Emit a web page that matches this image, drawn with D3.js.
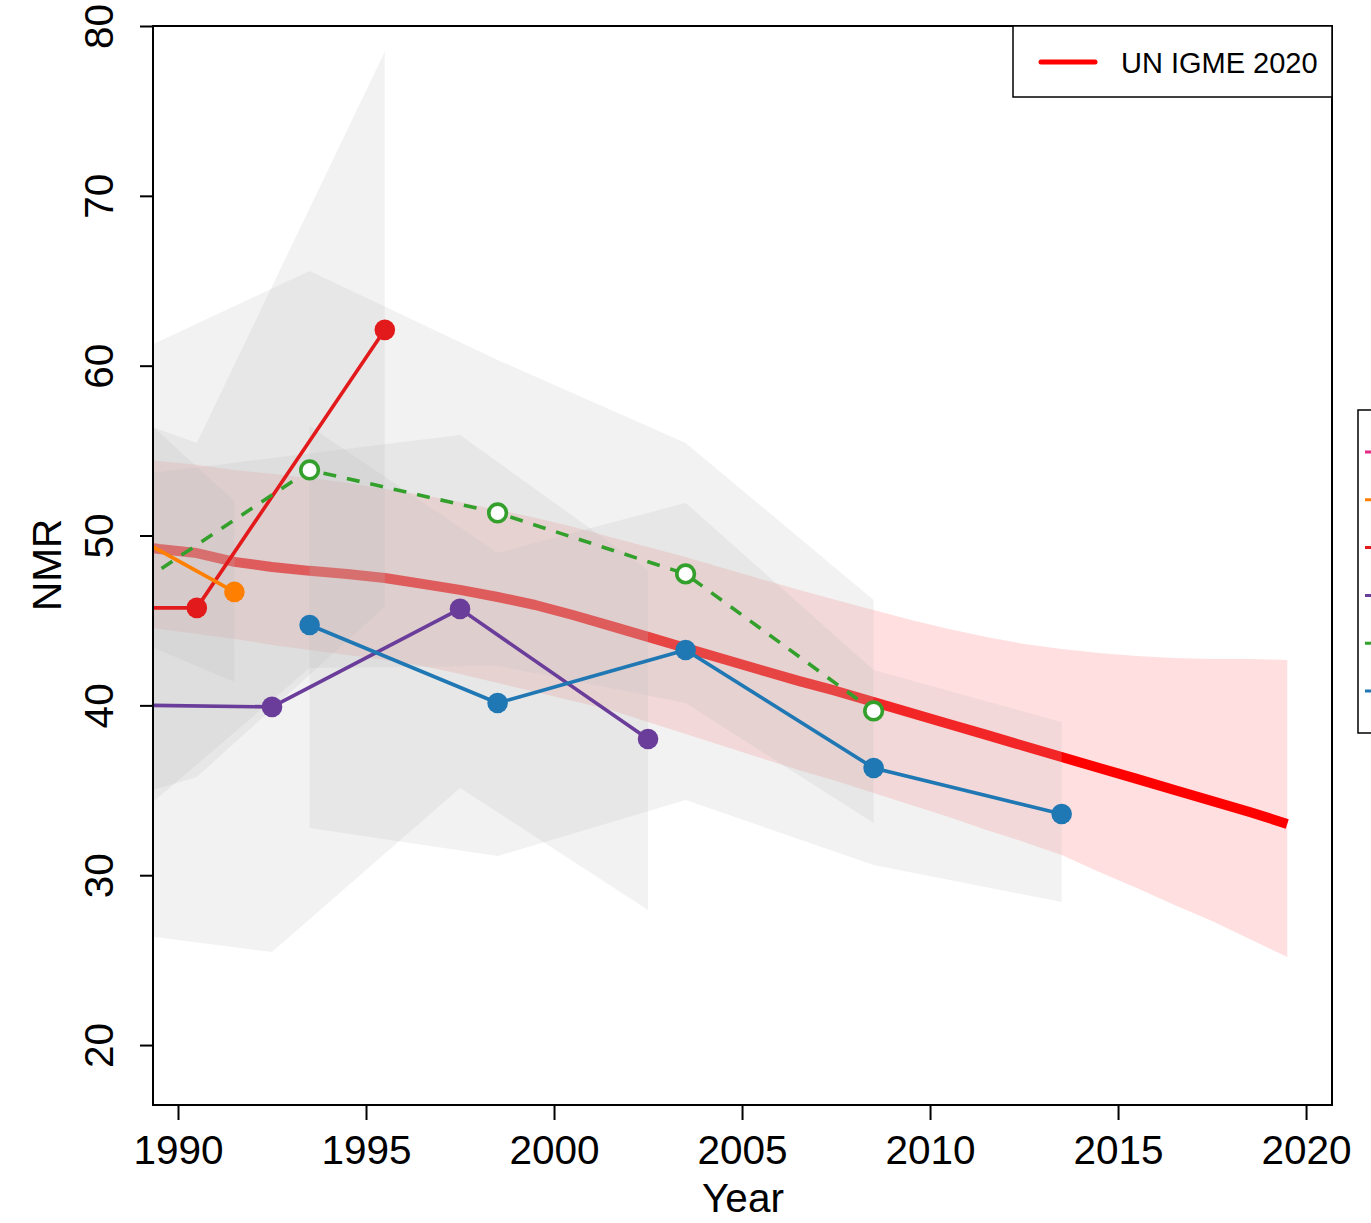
<!DOCTYPE html>
<html>
<head>
<meta charset="utf-8">
<script src="https://cdn.jsdelivr.net/npm/d3@7"></script>
<style>
html,body{margin:0;padding:0;background:#fff;}
svg{display:block;font-family:"Liberation Sans",Arial,Helvetica,sans-serif;}
</style>
</head>
<body>
<svg id="chart" width="1371" height="1223"></svg>
<script>
// ---------- DATA ----------
const xTicks = [1990, 1995, 2000, 2005, 2010, 2015, 2020];
const yTicks = [20, 30, 40, 50, 60, 70, 80];

// UN IGME 2020 estimate with uncertainty band
const igmeYears = [1988.5,1989.5,1990.5,1991.5,1992.5,1993.5,1994.5,1995.5,1996.5,1997.5,1998.5,1999.5,2000.5,2001.5,2002.5,2003.5,2004.5,2005.5,2006.5,2007.5,2008.5,2009.5,2010.5,2011.5,2012.5,2013.5,2014.5,2015.5,2016.5,2017.5,2018.5,2019.5];
const igmeMedian = [49.5,49.21,48.97,48.45,48.15,47.92,47.74,47.50,47.15,46.80,46.38,45.91,45.32,44.68,44.03,43.38,42.73,42.08,41.44,40.85,40.20,39.55,38.90,38.26,37.61,36.96,36.31,35.67,35.02,34.37,33.72,33.02];
const igmeUpper  = [54.62,54.39,54.16,53.86,53.63,53.39,53.10,52.74,52.39,51.98,51.51,51.04,50.51,49.92,49.33,48.74,48.09,47.44,46.80,46.21,45.62,45.03,44.50,44.03,43.62,43.32,43.09,42.91,42.79,42.73,42.73,42.67];
const igmeLower  = [44.78,44.50,44.20,43.91,43.56,43.26,42.97,42.67,42.32,41.85,41.32,40.79,40.26,39.73,39.02,38.32,37.61,36.90,36.20,35.55,34.84,34.13,33.43,32.66,31.96,31.19,30.19,29.25,28.24,27.30,26.24,25.18];

// Data series (survey sources)
const redYears   = [1985.5, 1990.5, 1995.5];
const redValues  = [45.74, 45.74, 62.11];
const redUpper   = [59.40, 55.45, 78.48];
const redLower   = [32.50, 35.78, 45.80];

const orangeYears  = [1986.5, 1991.5];
const orangeValues = [52.81, 46.68];
const orangeUpper  = [62.11, 52.04];
const orangeLower  = [46.03, 41.38];

const purpleYears  = [1987.5, 1992.5, 1997.5, 2002.5];
const purpleValues = [40.05, 39.91, 45.68, 38.02];
const purpleUpper  = [53.16, 54.57, 55.92, 47.97];
const purpleLower  = [26.89, 25.48, 35.14, 27.95];

const greenYears  = [1988.5, 1993.5, 1998.5, 2003.5, 2008.5];
const greenValues = [46.50, 53.86, 51.33, 47.74, 39.67];
const greenUpper  = [60.40, 65.58, 60.34, 55.45, 46.21];
const greenLower  = [32.72, 42.20, 42.32, 40.14, 33.07];

const blueYears  = [1993.5, 1998.5, 2003.5, 2008.5, 2013.5];
const blueValues = [44.73, 40.14, 43.26, 36.31, 33.60];
const blueUpper  = [56.45, 48.98, 51.92, 42.08, 39.02];
const blueLower  = [32.78, 31.13, 34.43, 30.60, 28.42];

const legendColors = ["#e7298a", "#ff7f00", "#e31a1c", "#6a3d9a", "#33a02c", "#1f78b4"];

// ---------- BUILD ----------
function zip(years, vals, up, lo) {
  return years.map((yr, i) => ({year: yr, value: vals[i], upper: up[i], lower: lo[i]}));
}
const series = [
  {name: "red",    color: "#e31a1c", dashed: false, open: false, data: zip(redYears, redValues, redUpper, redLower)},
  {name: "orange", color: "#ff7f00", dashed: false, open: false, data: zip(orangeYears, orangeValues, orangeUpper, orangeLower)},
  {name: "purple", color: "#6a3d9a", dashed: false, open: false, data: zip(purpleYears, purpleValues, purpleUpper, purpleLower)},
  {name: "green",  color: "#33a02c", dashed: true,  open: true,  data: zip(greenYears, greenValues, greenUpper, greenLower)},
  {name: "blue",   color: "#1f78b4", dashed: false, open: false, data: zip(blueYears, blueValues, blueUpper, blueLower)}
];
const igme = zip(igmeYears, igmeMedian, igmeUpper, igmeLower);

const L = 153, R = 1332, T = 26, B = 1105;
const x = d3.scaleLinear().domain([1989.335, 2020.69]).range([L, R]);
const y = d3.scaleLinear().domain([16.47, 80]).range([B, T]);

const svg = d3.select("#chart");
svg.append("defs").append("clipPath").attr("id", "plotclip")
  .append("rect").attr("x", L).attr("y", T).attr("width", R - L).attr("height", B - T);

const plot = svg.append("g").attr("clip-path", "url(#plotclip)");

const band = d3.area().x(d => x(d.year)).y0(d => y(d.lower)).y1(d => y(d.upper));
const line = d3.line().x(d => x(d.year)).y(d => y(d.value));

// IGME band + line
plot.append("path").datum(igme).attr("d", band)
  .attr("fill", "#ff0000").attr("fill-opacity", 0.125);
plot.append("path").datum(igme).attr("d", line)
  .attr("fill", "none").attr("stroke", "#ff0000").attr("stroke-width", 10)
  .attr("stroke-linejoin", "round");

// grey uncertainty bands of data series
series.forEach(s => {
  plot.append("path").datum(s.data).attr("d", band)
    .attr("fill", "#bebebe").attr("fill-opacity", 0.2);
});

// series lines and points
series.forEach(s => {
  plot.append("path").datum(s.data).attr("d", line)
    .attr("fill", "none").attr("stroke", s.color).attr("stroke-width", 3.6)
    .attr("stroke-dasharray", s.dashed ? "13,11" : null);
});
series.forEach(s => {
  plot.selectAll(null).data(s.data).enter().append("circle")
    .attr("cx", d => x(d.year)).attr("cy", d => y(d.value))
    .attr("r", s.open ? 8.8 : 10.3)
    .attr("fill", s.open ? "#fff" : s.color)
    .attr("stroke", s.open ? s.color : "none")
    .attr("stroke-width", s.open ? 3.6 : 0);
});

// box
svg.append("rect").attr("x", L).attr("y", T).attr("width", R - L).attr("height", B - T)
  .attr("fill", "none").attr("stroke", "#000").attr("stroke-width", 2);

// x axis
const xAxis = svg.append("g").attr("transform", `translate(0,${B})`)
  .call(d3.axisBottom(x).tickValues(xTicks).tickSize(15).tickFormat(d3.format("d")));
xAxis.select(".domain").remove();
xAxis.selectAll(".tick line").attr("stroke", "#000").attr("stroke-width", 2);
xAxis.selectAll(".tick text").attr("y", 59).attr("dy", null)
  .attr("font-size", 40.5).attr("fill", "#000").attr("font-family", "Liberation Sans, Arial, sans-serif");

// y axis
const yAxis = svg.append("g").attr("transform", `translate(${L},0)`)
  .call(d3.axisLeft(y).tickValues(yTicks).tickSize(13).tickFormat(d3.format("d")));
yAxis.select(".domain").remove();
yAxis.selectAll(".tick line").attr("stroke", "#000").attr("stroke-width", 2);
yAxis.selectAll(".tick text")
  .attr("x", null).attr("dy", null)
  .attr("transform", "translate(-40,0) rotate(-90)")
  .attr("text-anchor", "middle").attr("font-size", 40.5).attr("fill", "#000")
  .attr("font-family", "Liberation Sans, Arial, sans-serif");

// axis titles
svg.append("text").attr("x", (L + R) / 2 + 0.5).attr("y", 1212)
  .attr("text-anchor", "middle").attr("font-size", 40.5).text("Year");
svg.append("text").attr("transform", "translate(61,565) rotate(-90)")
  .attr("text-anchor", "middle").attr("font-size", 40.5).text("NMR");

// legend 1
svg.append("rect").attr("x", 1013).attr("y", T).attr("width", R - 1013).attr("height", 71)
  .attr("fill", "#fff").attr("stroke", "#000").attr("stroke-width", 1.5);
svg.append("line").attr("x1", 1041).attr("x2", 1095).attr("y1", 62).attr("y2", 62)
  .attr("stroke", "#ff0000").attr("stroke-width", 5).attr("stroke-linecap", "round");
svg.append("text").attr("x", 1121).attr("y", 73).attr("font-size", 29).text("UN IGME 2020");

// legend 2 (mostly outside the visible area)
svg.append("rect").attr("x", 1358).attr("y", 410).attr("width", 300).attr("height", 323)
  .attr("fill", "#fff").attr("stroke", "#000").attr("stroke-width", 1.5);
svg.selectAll(null).data(legendColors).enter().append("line")
  .attr("x1", 1365).attr("x2", 1400)
  .attr("y1", (d, i) => 452 + i * 47.8).attr("y2", (d, i) => 452 + i * 47.8)
  .attr("stroke", d => d).attr("stroke-width", 3);
</script>
</body>
</html>
